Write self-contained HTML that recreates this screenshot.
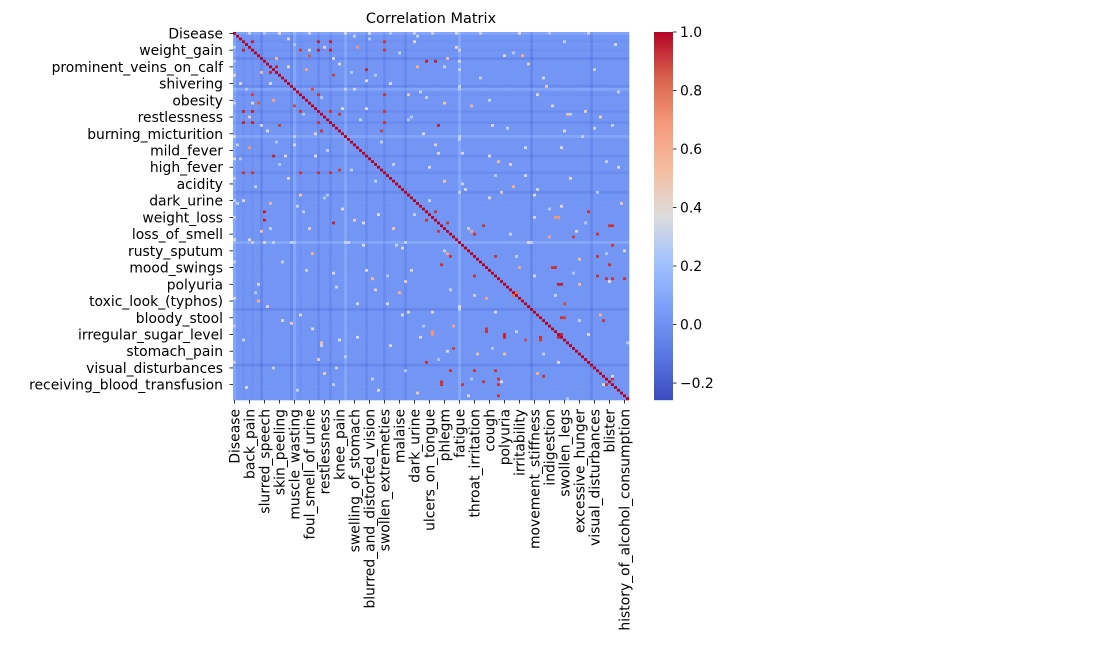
<!DOCTYPE html>
<html><head><meta charset="utf-8">
<style>
html,body{margin:0;padding:0;background:#fff;}
svg{display:block;font-family:"DejaVu Sans","Liberation Sans",sans-serif;}
</style></head>
<body>
<svg id="chart" width="1102" height="652" viewBox="0 0 1102 652" xmlns="http://www.w3.org/2000/svg">
<text x="431" y="23" font-size="14.5" text-anchor="middle" fill="#000">Correlation Matrix</text>
<g id="cells"></g>
<g id="yaxis"></g>
<g id="xaxis"></g>
<g id="cbar"></g>
</svg>
<script>
const N = 132;
const yLabels = ["Disease","weight_gain","prominent_veins_on_calf","shivering","obesity","restlessness","burning_micturition","mild_fever","high_fever","acidity","dark_urine","weight_loss","loss_of_smell","rusty_sputum","mood_swings","polyuria","toxic_look_(typhos)","bloody_stool","irregular_sugar_level","stomach_pain","visual_disturbances","receiving_blood_transfusion"];
const xLabels = ["Disease","back_pain","slurred_speech","skin_peeling","muscle_wasting","foul_smell_of urine","restlessness","knee_pain","swelling_of_stomach","blurred_and_distorted_vision","swollen_extremeties","malaise","dark_urine","ulcers_on_tongue","phlegm","fatigue","throat_irritation","cough","polyuria","irritability","movement_stiffness","indigestion","swollen_legs","excessive_hunger","visual_disturbances","blister","history_of_alcohol_consumption"];
const cbTicks = [1.0,0.8,0.6,0.4,0.2,0.0,-0.2];
const bias = [
0.08,0.01,0.01,-0.01,0.01,0.01,-0.01,0.01,0.01,-0.05,0.01,0.01,
0.01,0.01,0.01,0.01,0.01,0.01,0.01,-0.04,0.08,0.01,-0.01,0.01,
0.01,0.01,0.01,0.01,-0.03,0.01,0.01,0.01,-0.03,0.01,0.01,0.01,
0.01,0.08,0.01,0.01,0.01,0.01,0.01,0.01,-0.03,0.01,0.01,0.01,
0.01,0.01,-0.03,0.01,0.01,0.01,0.01,0.01,0.01,-0.04,0.01,0.01,
0.01,0.01,0.01,0.01,0.01,0.01,0.01,0.01,0.01,0.01,0.01,0.01,
0.01,0.01,0.01,0.09,0.01,0.01,0.01,0.01,0.01,0.01,0.01,0.01,
0.01,0.01,0.01,0.01,0.01,0.01,0.01,0.01,0.01,0.01,0.01,0.01,
0.01,0.01,0.01,-0.05,0.01,0.01,0.01,0.01,0.01,0.01,0.01,0.01,
0.01,0.01,0.01,0.01,0.01,0.01,0.01,0.01,0.01,0.01,0.01,-0.05,
0.01,0.01,0.01,0.01,0.01,0.01,0.01,0.01,0.01,0.01,0.01,0.01];
const hotRows = [6,3,6,3,3,3,8,12,13,15,20,28,28,28,29,32,32,33,32,32,44,50,50,50,50,50,49,10,10,33,5,13,13,24,
69,73,69,84,90,90,93,108,108,109,110,106,121,121,121,125,126,125,124,123,130,88,88,103,83,64,124,118,80,83,71,64,80,87,97,102,66,66,84,73,71];
const hotCols = [3,6,22,28,32,50,25,14,24,33,26,6,3,22,35,6,28,15,50,28,13,3,6,22,28,32,35,64,67,68,41,24,44,13,
83,113,126,107,108,109,94,90,109,102,97,84,72,80,87,69,76,83,88,103,88,124,126,123,125,118,126,64,72,69,68,67,87,80,110,110,107,108,95,105,79];
const hotVals = [0.95,0.95,0.9,0.92,0.95,0.92,0.85,0.95,0.7,0.9,0.88,0.95,0.95,0.92,0.92,0.95,0.92,0.9,0.92,0.92,0.95,0.92,0.92,0.92,0.92,0.92,0.9,0.95,0.95,0.95,0.7,0.7,0.95,0.65,
0.92,0.9,0.92,0.92,0.95,0.95,0.8,0.95,0.95,0.92,0.9,0.92,0.92,0.92,0.92,0.92,0.92,0.92,0.92,0.9,0.92,0.92,0.92,0.92,0.92,0.92,0.92,0.92,0.92,0.92,0.92,0.92,0.92,0.92,0.88,0.9,0.7,0.7,0.65,0.65,0.65];
const lightRows = [0,0,0,0,0,0,5,14,17,22,26,35,40,46,53,58,61,67,70,77,81,86,92,96,100,104,112,115,117,122,127,129,2,9,30,44,55,63,75,75,75,89,98,111,
0,0,0,0,0,0,0,0,1,3,4,7,8,11,12,15,16,18,21,23,24,25,27,29,31,33,34,36,38,39,41,42,43,45,47,48,49,51,52,54,56,59,60,62,64,65,68,72,74,76,78,79,82,85,87,91,93,94,97,101,103,105,106,107,109,110,113,114,116,118,120,121,123,124,125,126,128,130,131,1,6,10,13,19,20,37,57,99];
const lightCols = [15,37,60,74,95,118,30,9,44,58,79,110,20,88,70,100,12,40,25,56,115,33,47,8,66,19,52,90,28,101,4,61,18,71,122,85,93,36,20,37,98,57,11,29,
5,10,25,45,52,66,82,105,40,60,20,55,90,35,70,47,103,12,62,29,85,6,44,112,58,9,120,27,75,14,97,31,68,2,53,128,39,87,18,76,101,30,65,109,23,48,117,92,5,43,70,124,16,59,100,34,7,80,51,22,115,63,26,94,41,3,86,71,37,108,13,57,126,46,89,33,21,78,111,61,75,75,75,75,75,20,75,75,20];
const lightVals = [0.4,0.35,0.3,0.35,0.4,0.3,0.45,0.55,0.4,0.5,0.6,0.4,0.35,0.55,0.5,0.4,0.6,0.45,0.5,0.35,0.55,0.4,0.45,0.6,0.35,0.5,0.4,0.55,0.45,0.6,0.35,0.5,0.4,0.55,0.45,0.35,0.6,0.4,0.35,0.3,0.4,0.5,0.45,0.55,
0.3,0.25,0.3,0.35,0.25,0.3,0.3,0.25,0.3,0.4,0.25,0.3,0.35,0.4,0.3,0.25,0.35,0.4,0.3,0.25,0.3,0.35,0.4,0.3,0.25,0.35,0.3,0.4,0.3,0.25,0.35,0.3,0.4,0.25,0.3,0.35,0.3,0.25,0.4,0.3,0.35,0.25,0.3,0.4,0.3,0.35,0.25,0.3,0.4,0.35,0.3,0.25,0.3,0.4,0.35,0.3,0.25,0.3,0.35,0.4,0.3,0.25,0.35,0.3,0.4,0.3,0.25,0.35,0.3,0.4,0.3,0.25,0.35,0.3,0.4,0.3,0.3,0.35,0.25,0.3,0.3,0.35,0.3,0.3,0.25,0.3,0.3,0.3,0.25];

const X0=233, Y0=32, W=396, H=368;
const vmin=-0.258, vmax=1.0;
const cw=W/N, ch=H/N;
const xPos = j => X0 + j*cw;
const yPos = i => Y0 + i*ch;
const cmapStops=[[0,59,76,192],[0.125,90,120,228],[0.25,123,159,249],[0.375,162,193,255],[0.5,221,220,220],[0.625,245,190,160],[0.75,244,154,123],[0.875,218,98,77],[1,180,4,38]];
function cmap(v){
  let t=(v-vmin)/(vmax-vmin); t=Math.max(0,Math.min(1,t));
  for(let k=1;k<cmapStops.length;k++){
    const a=cmapStops[k-1],b=cmapStops[k];
    if(t<=b[0]){const f=(t-a[0])/(b[0]-a[0]);
      return `rgb(${Math.round(a[1]+f*(b[1]-a[1]))},${Math.round(a[2]+f*(b[2]-a[2]))},${Math.round(a[3]+f*(b[3]-a[3]))})`;}
  }
  return 'rgb(180,4,38)';
}
const M=[];
for(let i=0;i<N;i++){M.push([]);for(let j=0;j<N;j++)M[i].push(i===j?1:bias[i]+bias[j]);}
for(let k=0;k<lightRows.length;k++){const i=lightRows[k],j=lightCols[k];if(i<N&&j<N&&i!==j){M[i][j]=lightVals[k];M[j][i]=lightVals[k];}}
for(let k=0;k<hotRows.length;k++){const i=hotRows[k],j=hotCols[k];if(i<N&&j<N&&i!==j){M[i][j]=hotVals[k];M[j][i]=hotVals[k];}}
const NS='http://www.w3.org/2000/svg';
const cells=document.getElementById('cells');
for(let i=0;i<N;i++)for(let j=0;j<N;j++){
  const r=document.createElementNS(NS,'rect');
  r.setAttribute('x',xPos(j));r.setAttribute('y',yPos(i));
  r.setAttribute('width',cw+0.3);r.setAttribute('height',ch+0.3);
  r.setAttribute('fill',cmap(M[i][j]));
  
  
  cells.appendChild(r);
}
const FS='13.9';
const yax=document.getElementById('yaxis');
yLabels.forEach((lab,k)=>{
  const yc=yPos(k*6+0.5);
  const t=document.createElementNS(NS,'line');
  t.setAttribute('x1',X0-3.5);t.setAttribute('x2',X0);t.setAttribute('y1',yc);t.setAttribute('y2',yc);t.setAttribute('stroke','#000');t.setAttribute('stroke-width','0.8');
  
  
  yax.appendChild(t);
  const tx=document.createElementNS(NS,'text');
  tx.setAttribute('x',X0-10);tx.setAttribute('y',yc+5);tx.setAttribute('text-anchor','end');tx.setAttribute('font-size',FS);
  tx.textContent=lab;
  
  
  yax.appendChild(tx);
});
const xax=document.getElementById('xaxis');
xLabels.forEach((lab,k)=>{
  const xc=xPos(k*5+0.5);
  const t=document.createElementNS(NS,'line');
  t.setAttribute('x1',xc);t.setAttribute('x2',xc);t.setAttribute('y1',Y0+H);t.setAttribute('y2',Y0+H+3.5);t.setAttribute('stroke','#000');t.setAttribute('stroke-width','0.8');
  
  
  xax.appendChild(t);
  const tx=document.createElementNS(NS,'text');
  tx.setAttribute('transform',`translate(${xc+5},${Y0+H+9}) rotate(-90)`);
  tx.setAttribute('text-anchor','end');tx.setAttribute('font-size',FS);
  tx.textContent=lab;
  
  
  xax.appendChild(tx);
});
const cb=document.getElementById('cbar');
const CX=654, CW=19, CY0=32, CH=368;
const cbY = v => CY0 + (vmax-v)/(vmax-vmin)*CH;
for(let p=0;p<CH;p++){
  const v=vmax-(p+0.5)/CH*(vmax-vmin);
  const r=document.createElementNS(NS,'rect');
  r.setAttribute('x',CX);r.setAttribute('y',CY0+p);r.setAttribute('width',CW);r.setAttribute('height',1.2);r.setAttribute('fill',cmap(v));
  
  
  cb.appendChild(r);
}
cbTicks.forEach(v=>{
  const y=cbY(v);
  const t=document.createElementNS(NS,'line');
  t.setAttribute('x1',CX+CW);t.setAttribute('x2',CX+CW+3.5);t.setAttribute('y1',y);t.setAttribute('y2',y);t.setAttribute('stroke','#000');t.setAttribute('stroke-width','0.8');
  
  
  cb.appendChild(t);
  const tx=document.createElementNS(NS,'text');
  tx.setAttribute('x',CX+CW+7);tx.setAttribute('y',y+5);tx.setAttribute('font-size',FS);
  tx.textContent=(v<0?'\u2212':'')+Math.abs(v).toFixed(1);
  
  
  cb.appendChild(tx);
});
</script>
</body></html>
